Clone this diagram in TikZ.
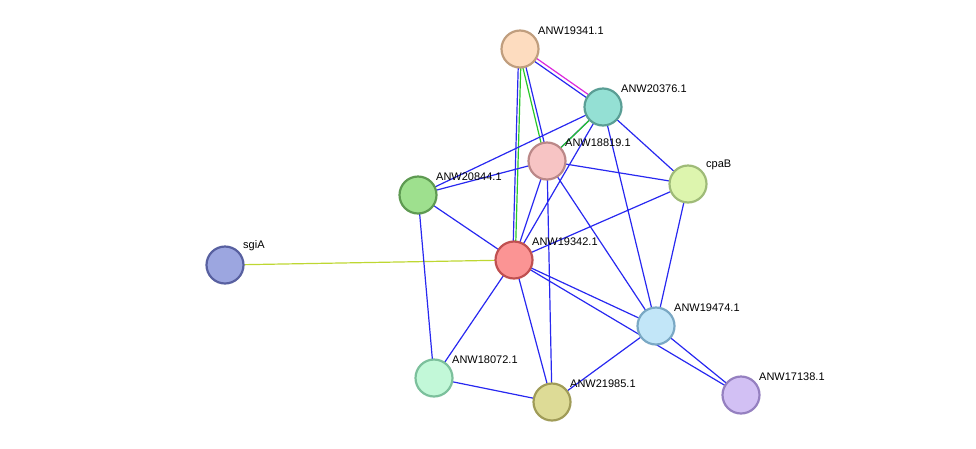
\documentclass[tikz,border=0pt]{standalone}
\usepackage{fontspec}
\setmainfont{Liberation Sans}
\begin{document}
\begin{tikzpicture}[x=1pt,y=-1pt,
    prot/.style={circle,draw,line width=2.2pt,minimum size=37pt,inner sep=0pt},
    lab/.style={font=\fontsize{11}{13}\selectfont,anchor=south west,inner sep=1pt},
    edge/.style={draw={rgb,255:red,40;green,40;blue,240},line width=1.2pt},
    up/.style={transform canvas={shift={(-1.3pt,-1.3pt)}}},
    dn/.style={transform canvas={shift={(1.3pt,1.3pt)}}}]
  \useasboundingbox (0,0) rectangle (976,448);
  \coordinate (p1) at (520,49);
  \coordinate (p2) at (603,107);
  \coordinate (p3) at (547,161);
  \coordinate (cpab) at (688,184);
  \coordinate (p4) at (418,195);
  \coordinate (p5) at (514,260);
  \coordinate (sgia) at (225,265);
  \coordinate (p6) at (656,326);
  \coordinate (p7) at (434,378);
  \coordinate (p8) at (552,402);
  \coordinate (p9) at (741,395);
  % edges
  \path[edge,up] (p1) -- (p2);
  \path[draw={rgb,255:red,220;green,40;blue,220},line width=1.2pt,dn] (p1) -- (p2);
  \path[edge,dn] (p1) -- (p3);
  \path[draw={rgb,255:red,40;green,200;blue,40},line width=1.2pt,up] (p1) -- (p3);
  \path[edge,up] (p1) -- (p5);
  \path[draw={rgb,255:red,40;green,200;blue,40},line width=1.2pt,dn] (p1) -- (p5);
  \path[edge,dn] (p2) -- (p3);
  \path[draw={rgb,255:red,40;green,200;blue,40},line width=1.2pt,up] (p2) -- (p3);
  \path[draw={rgb,255:red,190;green,215;blue,50},line width=1.2pt] (sgia) -- (p5);
  \path[edge]
    (p2) -- (p4) (p2) -- (p5) (p2) -- (cpab) (p2) -- (p6)
    (p3) -- (p4) (p3) -- (cpab) (p3) -- (p5) (p3) -- (p6) (p3) -- (p8)
    (p4) -- (p5) (p4) -- (p7)
    (p5) -- (cpab) (p5) -- (p6) (p5) -- (p9) (p5) -- (p7) (p5) -- (p8)
    (p6) -- (cpab) (p6) -- (p9) (p6) -- (p8)
    (p7) -- (p8);
  % nodes
  \node[prot,fill={rgb,255:red,253;green,220;blue,191},draw={rgb,255:red,192;green,158;blue,126}] (n1) at (p1) {};
  \node[prot,fill={rgb,255:red,148;green,224;blue,212},draw={rgb,255:red,90;green,158;blue,149}] (n2) at (p2) {};
  \node[prot,fill={rgb,255:red,247;green,196;blue,196},draw={rgb,255:red,187;green,136;blue,136}] (n3) at (p3) {};
  \node[prot,fill={rgb,255:red,221;green,245;blue,174},draw={rgb,255:red,159;green,187;blue,120}] (nc) at (cpab) {};
  \node[prot,fill={rgb,255:red,158;green,224;blue,142},draw={rgb,255:red,94;green,154;blue,82}] (n4) at (p4) {};
  \node[prot,fill={rgb,255:red,251;green,148;blue,148},draw={rgb,255:red,192;green,80;blue,80}] (n5) at (p5) {};
  \node[prot,fill={rgb,255:red,156;green,166;blue,224},draw={rgb,255:red,88;green,96;blue,160}] (ns) at (sgia) {};
  \node[prot,fill={rgb,255:red,194;green,230;blue,248},draw={rgb,255:red,122;green,168;blue,196}] (n6) at (p6) {};
  \node[prot,fill={rgb,255:red,194;green,248;blue,216},draw={rgb,255:red,124;green,192;blue,156}] (n7) at (p7) {};
  \node[prot,fill={rgb,255:red,221;green,219;blue,150},draw={rgb,255:red,160;green,156;blue,88}] (n8) at (p8) {};
  \node[prot,fill={rgb,255:red,210;green,192;blue,244},draw={rgb,255:red,149;green,128;blue,192}] (n9) at (p9) {};
  % labels
  \node[lab] (l1) at ([xshift=17pt,yshift=13pt]p1) {ANW19341.1};
  \node[lab] (l2) at ([xshift=17pt,yshift=13pt]p2) {ANW20376.1};
  \node[lab] (l3) at ([xshift=17pt,yshift=13pt]p3) {ANW18819.1};
  \node[lab] (lc) at ([xshift=17pt,yshift=13pt]cpab) {cpaB};
  \node[lab] (l4) at ([xshift=17pt,yshift=13pt]p4) {ANW20844.1};
  \node[lab] (l5) at ([xshift=17pt,yshift=13pt]p5) {ANW19342.1};
  \node[lab] (ls) at ([xshift=17pt,yshift=13pt]sgia) {sgiA};
  \node[lab] (l6) at ([xshift=17pt,yshift=13pt]p6) {ANW19474.1};
  \node[lab] (l7) at ([xshift=17pt,yshift=13pt]p7) {ANW18072.1};
  \node[lab] (l8) at ([xshift=17pt,yshift=13pt]p8) {ANW21985.1};
  \node[lab] (l9) at ([xshift=17pt,yshift=13pt]p9) {ANW17138.1};
\end{tikzpicture}
\end{document}
